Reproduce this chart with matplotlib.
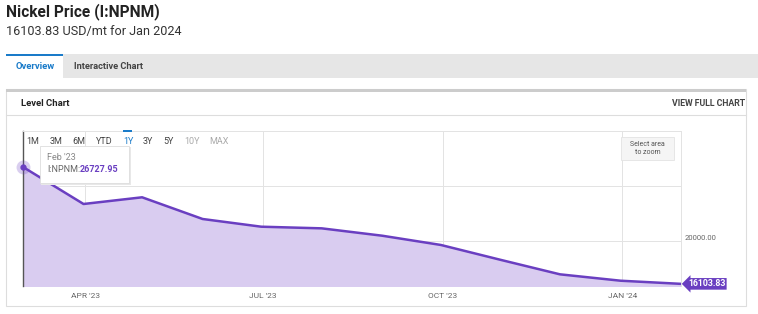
import numpy as np
import matplotlib
matplotlib.use("Agg")
import matplotlib.pyplot as plt
import matplotlib.dates as mdates
from matplotlib.patches import Rectangle
from datetime import date

plt.rcParams['font.family'] = ['Roboto', 'DejaVu Sans']

# monthly nickel price (plotted at month end), USD/mt
dates = [date(2023, 2, 28), date(2023, 3, 31), date(2023, 4, 30), date(2023, 5, 31),
         date(2023, 6, 30), date(2023, 7, 31), date(2023, 8, 31), date(2023, 9, 30),
         date(2023, 10, 31), date(2023, 11, 30), date(2023, 12, 31), date(2024, 1, 31)]
values = [26727.95, 23364, 23973, 22000, 21300, 21150, 20480, 19640,
          18270, 16970, 16390, 16103.83]
tick_dates = [date(2023, 4, 1), date(2023, 7, 1), date(2023, 10, 1), date(2024, 1, 1)]
tick_labels = ["APR '23", "JUL '23", "OCT '23", "JAN '24"]
ranges = ["1M", "3M", "6M", "YTD", "1Y", "3Y", "5Y", "10Y", "MAX"]

W, H = 758, 314
LINE = '#6a3fc1'
FILL = '#d9ccf0'

fig = plt.figure(figsize=(W / 100, H / 100), dpi=100)
fig.patch.set_facecolor('white')


def fx(x):
    return x / W


def fy(y):
    return 1 - y / H


def rect(x0, y0, x1, y1, z=10, **kw):
    fig.add_artist(Rectangle((fx(x0), fy(y1)), fx(x1) - fx(x0), fy(y0) - fy(y1),
                             transform=fig.transFigure, zorder=z, **kw))


def txt(x, y, s, **kw):
    fig.text(fx(x), fy(y), s, zorder=12, **kw)


# header
txt(6, 12, "Nickel Price (I:NPNM)", fontsize=11.2, fontweight='bold', color='#222222', va='center')
txt(6, 32, "16103.83 USD/mt for Jan 2024", fontsize=9.1, color='#333333', va='center')

# tabs
rect(6, 54, 758, 78, z=-2, facecolor='#e6e6e6', edgecolor='none')
rect(6, 54, 63, 78, z=-2, facecolor='white', edgecolor='none')
rect(6, 54, 63, 56, z=-2, facecolor='#1a7bc9', edgecolor='none')
txt(35, 66.5, "Overview", fontsize=6.8, fontweight='bold', color='#1a7bc9', ha='center', va='center')
txt(74, 66.5, "Interactive Chart", fontsize=6.7, fontweight='bold', color='#444444', va='center')

# card
rect(6, 89, 746, 306, z=-2, facecolor='white', edgecolor='#dddddd', linewidth=0.8)
rect(6, 89, 746, 92, z=-2, facecolor='#cccccc', edgecolor='none')
fig.add_artist(plt.Line2D([fx(6), fx(746)], [fy(115), fy(115)], transform=fig.transFigure,
                          color='#dddddd', linewidth=0.8, zorder=-1))
txt(21, 103, "Level Chart", fontsize=6.8, fontweight='bold', color='#222222', va='center')
txt(745, 104, "VIEW FULL CHART", fontsize=6.3, fontweight='bold', color='#444444', ha='right', va='center')

# chart
ax = fig.add_axes([fx(23), fy(286), fx(681) - fx(23), fy(131) - fy(286)])
ax.set_zorder(0)
ax.patch.set_alpha(0)
xd = mdates.date2num(dates)
ax.fill_between(xd, values, 15000, color=FILL, linewidth=0)
ax.plot(xd, values, color=LINE, linewidth=1.8, solid_joinstyle='round', zorder=3)
ax.set_xlim(xd[0], xd[-1])
ax.set_ylim(15909, 30000)
ax.set_xticks(mdates.date2num(tick_dates))
ax.set_xticklabels(tick_labels)
ax.set_yticks([20000, 25000])
ax.tick_params(axis='x', length=0, labelsize=6, colors='#666666', pad=5)
ax.tick_params(axis='y', length=0, labelleft=False)
ax.grid(True, color='#e3e3e3', linewidth=0.7)
ax.set_axisbelow(True)
for s in ['top', 'right']:
    ax.spines[s].set_color('#e3e3e3')
    ax.spines[s].set_linewidth(0.7)
ax.spines['bottom'].set_visible(False)
ax.spines['left'].set_color('#555555')
ax.spines['left'].set_linewidth(1.0)

# hover marker on first point
ax.plot(xd[0], values[0], 'o', markersize=10, color=LINE, alpha=0.25, markeredgewidth=0,
        zorder=4, clip_on=False)
ax.plot(xd[0], values[0], 'o', markersize=3.5, color=LINE, zorder=5, clip_on=False)

# right labels
ax.text(1.005, 20000, "20000.00", transform=ax.get_yaxis_transform(), fontsize=5.5,
        color='#666666', va='bottom', ha='left')
ax.annotate("16103.83", (xd[-1], values[-1]), xytext=(5, 0), textcoords='offset points',
            fontsize=6.3, fontweight='bold', color='white', va='center', ha='left',
            bbox=dict(boxstyle='larrow,pad=0.15', facecolor=LINE, edgecolor='none'),
            annotation_clip=False, zorder=6)

# range selector
range_x = [33, 56, 79, 104, 128, 148, 169, 192, 219]
for r, x in zip(ranges, range_x):
    col = '#444444'
    if r == '1Y':
        col = '#1a7bc9'
    elif r in ('10Y', 'MAX'):
        col = '#aaaaaa'
    txt(x, 142, r, fontsize=6.5, color=col, ha='center', va='center')
rect(123, 129.5, 132, 131.5, facecolor='#1a7bc9', edgecolor='none')

# tooltip
rect(41, 147, 131, 185, facecolor='#e8e8e8', edgecolor='none')
rect(40, 146, 129, 183, z=11, facecolor='white', edgecolor='#dddddd', linewidth=0.6)
txt(47, 157, "Feb '23", fontsize=6.5, color='#888888', va='center')
txt(47, 170, "I:NPNM:", fontsize=6.5, color='#666666', va='center')
txt(80, 170, "26727.95", fontsize=6.5, fontweight='bold', color=LINE, va='center')

# zoom hint
rect(621, 137, 674, 160, facecolor='#f5f5f5', edgecolor='#e3e3e3', linewidth=0.6)
txt(647.5, 148.5, "Select area\nto zoom", fontsize=5, color='#555555', ha='center', va='center',
    linespacing=1.2)

fig.savefig("out.png", dpi=100)
